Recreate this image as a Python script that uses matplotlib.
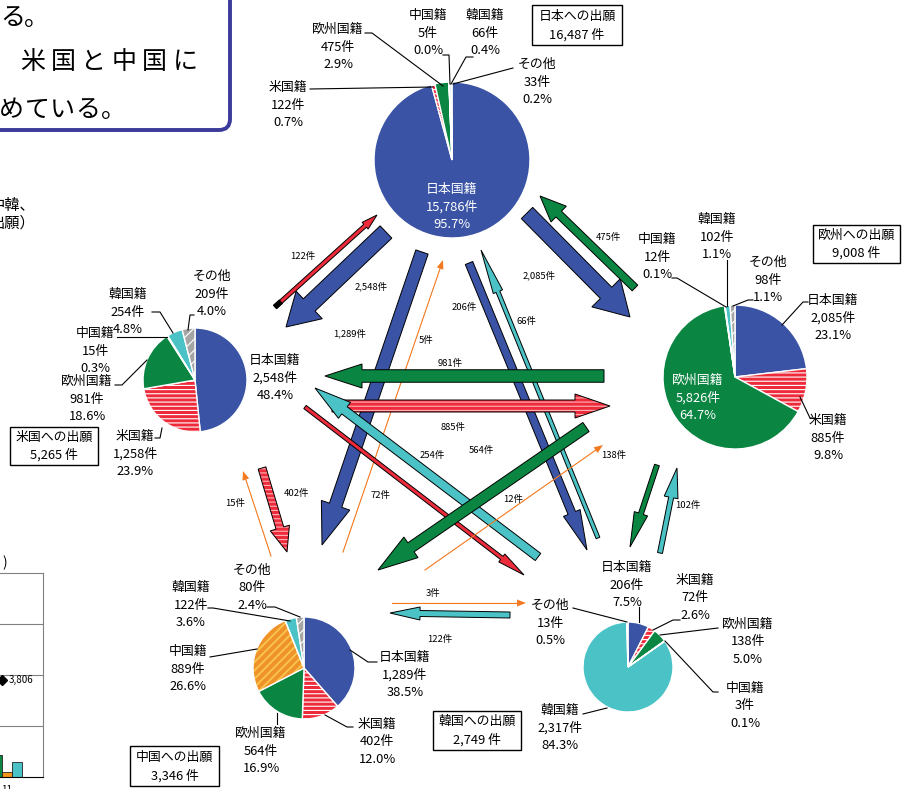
import numpy as np
import matplotlib
matplotlib.use('Agg')
import matplotlib.pyplot as plt
from matplotlib.patches import Polygon, FancyBboxPatch, Wedge, Rectangle

plt.rcParams['font.family'] = ['Noto Sans CJK JP', 'DejaVu Sans']
plt.rcParams['hatch.linewidth'] = 0.8

# ---------------- data ----------------
nationalities = ['日本国籍', '米国籍', '欧州国籍', '中国籍', '韓国籍', 'その他']
office_titles = ['日本への出願', '米国への出願', '欧州への出願', '中国への出願', '韓国への出願']
jp_filings = [15786, 122, 475, 5, 66, 33]
us_filings = [2548, 1258, 981, 15, 254, 209]
ep_filings = [2085, 885, 5826, 12, 102, 98]
cn_filings = [1289, 402, 564, 889, 122, 80]
kr_filings = [206, 72, 138, 3, 2317, 13]
filings = [jp_filings, us_filings, ep_filings, cn_filings, kr_filings]

# flows: (nationality index, office index) -> value = filings[office][nationality]
flows = [(0, 1), (1, 0), (0, 2), (2, 0), (0, 3), (3, 0), (0, 4), (4, 0),
         (2, 1), (1, 2), (1, 3), (3, 1), (1, 4), (4, 1), (2, 3), (3, 2),
         (2, 4), (4, 2), (4, 3), (3, 4)]

# fragment of neighbouring chart (bottom-left, cut off)
frag_bars = [863, 200, 590]
frag_marker = 3806
frag_tick = ['11']

# ---------------- styles / layout ----------------
BLUE = '#3A53A4'
RED = '#EE2B3B'
GREEN = '#0A8542'
CNOR = '#F0922A'
CYAN = '#4BC3C6'
GRAY = '#A5A5A5'
ARROW_OR = '#F47A22'
wedge_colors = [BLUE, RED, GREEN, CNOR, CYAN, GRAY]
arrow_colors = [BLUE, RED, GREEN, ARROW_OR, CYAN]

W, H = 903, 789
fig = plt.figure(figsize=(W / 100, H / 100), dpi=100)
ax = fig.add_axes([0, 0, 1, 1])

pie_geom = [((452, 160), 78), ((195, 380), 52), ((735, 377), 72),
            ((304, 668), 51), ((628, 667), 45)]

# label layout: (x, y_middle_line, color, leader points)
label_layout = [
    [(452, 207, 'white', None),
     (288, 105, 'black', [(310, 89), (433, 87)]),
     (338, 47, 'black', [(365, 33), (372, 33), (443, 86)]),
     (428, 33, 'black', [(443, 55), (449, 55), (450, 84)]),
     (485, 33, 'black', [(473, 57), (466, 57), (451, 84)]),
     (537, 82, 'black', [(513, 68), (453, 84)])],
    [(275, 378, 'black', None),
     (135, 454, 'black', [(155, 438), (160, 438), (162, 428)]),
     (87, 399, 'black', [(115, 385), (122, 385), (147, 360)]),
     (95, 351, 'black', [(117, 337), (167, 337)]),
     (128, 312, 'black', [(152, 312), (160, 312), (173, 333)]),
     (212, 294, 'black', [(194, 315), (190, 315), (188, 330)])],
    [(833, 318, 'black', [(808, 302), (803, 302), (782, 325)]),
     (828, 438, 'black', [(815, 418), (810, 418), (800, 397)]),
     (698, 398, 'white', None),
     (657, 257, 'black', [(672, 278), (677, 278), (726, 307)]),
     (717, 237, 'black', [(727, 260), (727, 306)]),
     (768, 280, 'black', [(753, 300), (748, 300), (733, 306)])],
    [(405, 675, 'black', [(377, 662), (368, 662), (350, 650)]),
     (377, 742, 'black', [(353, 727), (347, 727), (325, 715)]),
     (261, 751, 'black', [(277, 724), (277, 713)]),
     (188, 669, 'black', [(210, 657), (257, 649)]),
     (191, 605, 'black', [(208, 608), (213, 608), (290, 621)]),
     (252, 588, 'black', [(267, 607), (275, 607), (300, 617)])],
    [(627, 585, 'black', [(639, 607), (639, 622)]),
     (695, 598, 'black', [(680, 620), (673, 620), (653, 630)]),
     (748, 642, 'black', [(718, 628), (660, 635)]),
     (745, 706, 'black', [(718, 692), (713, 692), (665, 641)]),
     (560, 728, 'black', [(583, 714), (607, 708)]),
     (550, 623, 'black', [(573, 608), (627, 622)])],
]
box_layout = [(532, 5, 622, 45), (10, 427, 98, 465), (813, 225, 900, 263),
              (130, 746, 219, 786), (433, 711, 521, 750)]

# arrows: tail, tip, shaft w, head w, head len, label pos  (w=None -> thin line)
arrow_layout = [
    ((386, 232), (286, 327), 17, 38, 32, (371, 286)),
    ((275, 307), (377, 215), 4, 9, 16, (303, 256)),
    ((527, 213), (630, 317), 16, 40, 34, (539, 275)),
    ((635, 288), (540, 196), 8, 22, 26, (608, 237)),
    ((422, 252), (322, 545), 13, 30, 42, (350, 333)),
    ((343, 552), (443, 260), None, 7, 9, (426, 340)),
    ((469, 263), (587, 550), 8, 18, 40, (464, 307)),
    ((598, 538), (481, 250), 4, 10, 45, (527, 321)),
    ((604, 376), (325, 376), 12.5, 24, 37, (450, 363)),
    ((332, 406), (610, 406), 12, 24, 35, (453, 427)),
    ((262, 468), (287, 552), 8, 20, 25, (297, 493)),
    ((271, 556), (243, 471), None, 7, 9, (235, 503)),
    ((305, 407), (524, 575), 4, 10, 28, (381, 495)),
    ((538, 557), (315, 388), 9, 20, 37, (432, 455)),
    ((586, 427), (378, 570), 11, 25, 40, (481, 450)),
    ((425, 570), (603, 445), None, 7, 9, (513, 499)),
    ((657, 465), (630, 547), 5, 14, 35, (614, 455)),
    ((660, 553), (677, 468), 5, 14, 30, (688, 505)),
    ((510, 615), (390, 613), 6, 13, 30, (440, 639)),
    ((392, 603), (526, 603), None, 7, 9, (433, 593)),
]
draw_order = [0, 2, 4, 6, 3, 8, 14, 16, 9, 10, 12, 1, 7, 13, 17, 18, 5, 11, 15, 19]


def arrow_poly(tail, tip, w, hw, hl):
    t = np.array(tail, float)
    p = np.array(tip, float)
    d = p - t
    u = d / np.hypot(*d)
    n = np.array([-u[1], u[0]])
    b = p - u * hl
    return np.array([t + n * w / 2, b + n * w / 2, b + n * hw / 2, p,
                     b - n * hw / 2, b - n * w / 2, t - n * w / 2])


# ---------------- pies ----------------
for k, vals in enumerate(filings):
    (cx, cy), r = pie_geom[k]
    wedges, _ = ax.pie(vals, colors=wedge_colors, startangle=-90, counterclock=True,
                       center=(cx, cy), radius=r,
                       wedgeprops=dict(edgecolor='white', linewidth=1.0))
    for i, wdg in enumerate(wedges):
        wdg.set_zorder(2)
        if i == 1:
            wdg.set_hatch('----')
        elif i == 5:
            wdg.set_hatch('///')
        elif i == 3:
            wdg.set_edgecolor('#F9C64E')
            wdg.set_linewidth(0)
            wdg.set_hatch('////')
            if hasattr(wdg, 'set_hatch_linewidth'):
                wdg.set_hatch_linewidth(1.3)
            ov = Wedge(wdg.center, wdg.r, wdg.theta1, wdg.theta2, facecolor='none',
                       edgecolor='white', linewidth=1.0, zorder=2.1)
            ax.add_patch(ov)
    total = sum(vals)
    for i, (lx, ly, col, leader) in enumerate(label_layout[k]):
        pct = vals[i] / total * 100
        for j, s in enumerate([nationalities[i], f'{vals[i]:,}件', f'{pct:.1f}%']):
            ax.text(lx, ly + (j - 1) * 17.5, s, ha='center', va='center',
                    fontsize=9.3, color=col, zorder=5)
        if leader:
            xs, ys = zip(*leader)
            ax.plot(xs, ys, color='black', lw=0.8, zorder=4)
    x0, y0, x1, y1 = box_layout[k]
    ax.add_patch(Rectangle((x0, y0), x1 - x0, y1 - y0, facecolor='white',
                           edgecolor='black', lw=1.0, zorder=4))
    ax.text((x0 + x1) / 2, y0 + (y1 - y0) * 0.28, office_titles[k], ha='center',
            va='center', fontsize=9.3, zorder=5)
    ax.text((x0 + x1) / 2, y0 + (y1 - y0) * 0.74, f'{total:,} 件', ha='center',
            va='center', fontsize=9.3, zorder=5)

# ---------------- arrows ----------------
for idx in draw_order:
    src, dst = flows[idx]
    val = filings[dst][src]
    tail, tip, w, hw, hl, lpos = arrow_layout[idx]
    col = arrow_colors[src]
    z = 3 + idx * 0.01
    if w is None:
        t = np.array(tail, float); p = np.array(tip, float)
        u = (p - t) / np.hypot(*(p - t))
        b = p - u * hl
        ax.plot([t[0], b[0]], [t[1], b[1]], color=col, lw=0.8, zorder=z)
        ax.add_patch(Polygon(arrow_poly(tail, tip, 0.1, hw, hl), closed=True,
                             facecolor=col, edgecolor='none', zorder=z))
    else:
        pts = arrow_poly(tail, tip, w, hw, hl)
        if src == 1 and w > 4:
            ax.add_patch(Polygon(pts, closed=True, facecolor=col, edgecolor='#FFB3B8',
                                 lw=0, hatch='----', zorder=z))
            ax.add_patch(Polygon(pts, closed=True, facecolor='none', edgecolor='black',
                                 lw=0.7, zorder=z))
        else:
            ax.add_patch(Polygon(pts, closed=True, facecolor=col, edgecolor='black',
                                 lw=0.7, zorder=z))
        if idx == 1:
            t = np.array(tail, float); p = np.array(tip, float)
            u = (p - t) / np.hypot(*(p - t))
            ax.add_patch(Polygon(arrow_poly(tail, t + u * 8, w + 1, w + 1, 0.01),
                                 closed=True, facecolor='black', edgecolor='black',
                                 lw=0.5, zorder=z + 0.001))
    ax.text(lpos[0], lpos[1], f'{val:,}件', ha='center', va='center',
            fontsize=6.8, zorder=6)

# ---------------- cut-off callout (top-left) ----------------
ax.add_patch(FancyBboxPatch((-40, -40), 270, 170,
                            boxstyle='round,pad=0,rounding_size=11',
                            facecolor='white', edgecolor='#3B3B9B', lw=2.8, zorder=7))
callout_lines = [('る。', 0, 18, 24), ('米国と中国に', 20, 62, 30.5), ('めている。', -1, 110, 25.5)]
for s, x0, yy, adv in callout_lines:
    for i, ch in enumerate(s):
        ax.text(x0 + i * adv, yy, ch, ha='left', va='center', fontsize=18, zorder=8)

ax.text(35, 205, '中韓、', ha='right', va='center', fontsize=11)
ax.text(35, 223, '出願）', ha='right', va='center', fontsize=11)

ax.set_xlim(0, W)
ax.set_ylim(H, 0)
ax.set_aspect('auto')
ax.axis('off')

# ---------------- neighbouring chart fragment ----------------
ax2 = fig.add_axes([-157 / W, 1 - 777 / H, 200 / W, (777 - 573) / H])
ax2.set_xlim(-6.07, 1.33)
ax2.set_ylim(0, 8000)
ax2.set_yticks([2000, 4000, 6000])
ax2.yaxis.grid(True, color='#808080', lw=0.8)
ax2.set_axisbelow(True)
ax2.tick_params(left=False, labelleft=False, bottom=False, labelsize=7, pad=2)
ax2.bar([-0.38, 0, 0.38], frag_bars, width=0.38,
        color=[GREEN, '#F7941D', CYAN], edgecolor='#222222', lw=0.6)
ax2.plot([-0.2], [frag_marker], marker='D', color='black', ms=5)
ax2.text(0.05, frag_marker, f'{frag_marker:,}', fontsize=7, va='center', ha='left')
ax2.set_xticks([0])
ax2.set_xticklabels(frag_tick)
for sp in ['top', 'right', 'left']:
    ax2.spines[sp].set_color('#808080')
ax2.spines['bottom'].set_color('black')
fig.text(7 / W, 1 - 563 / H, ')', ha='right', va='center', fontsize=10)

fig.savefig('out.png', dpi=100)
